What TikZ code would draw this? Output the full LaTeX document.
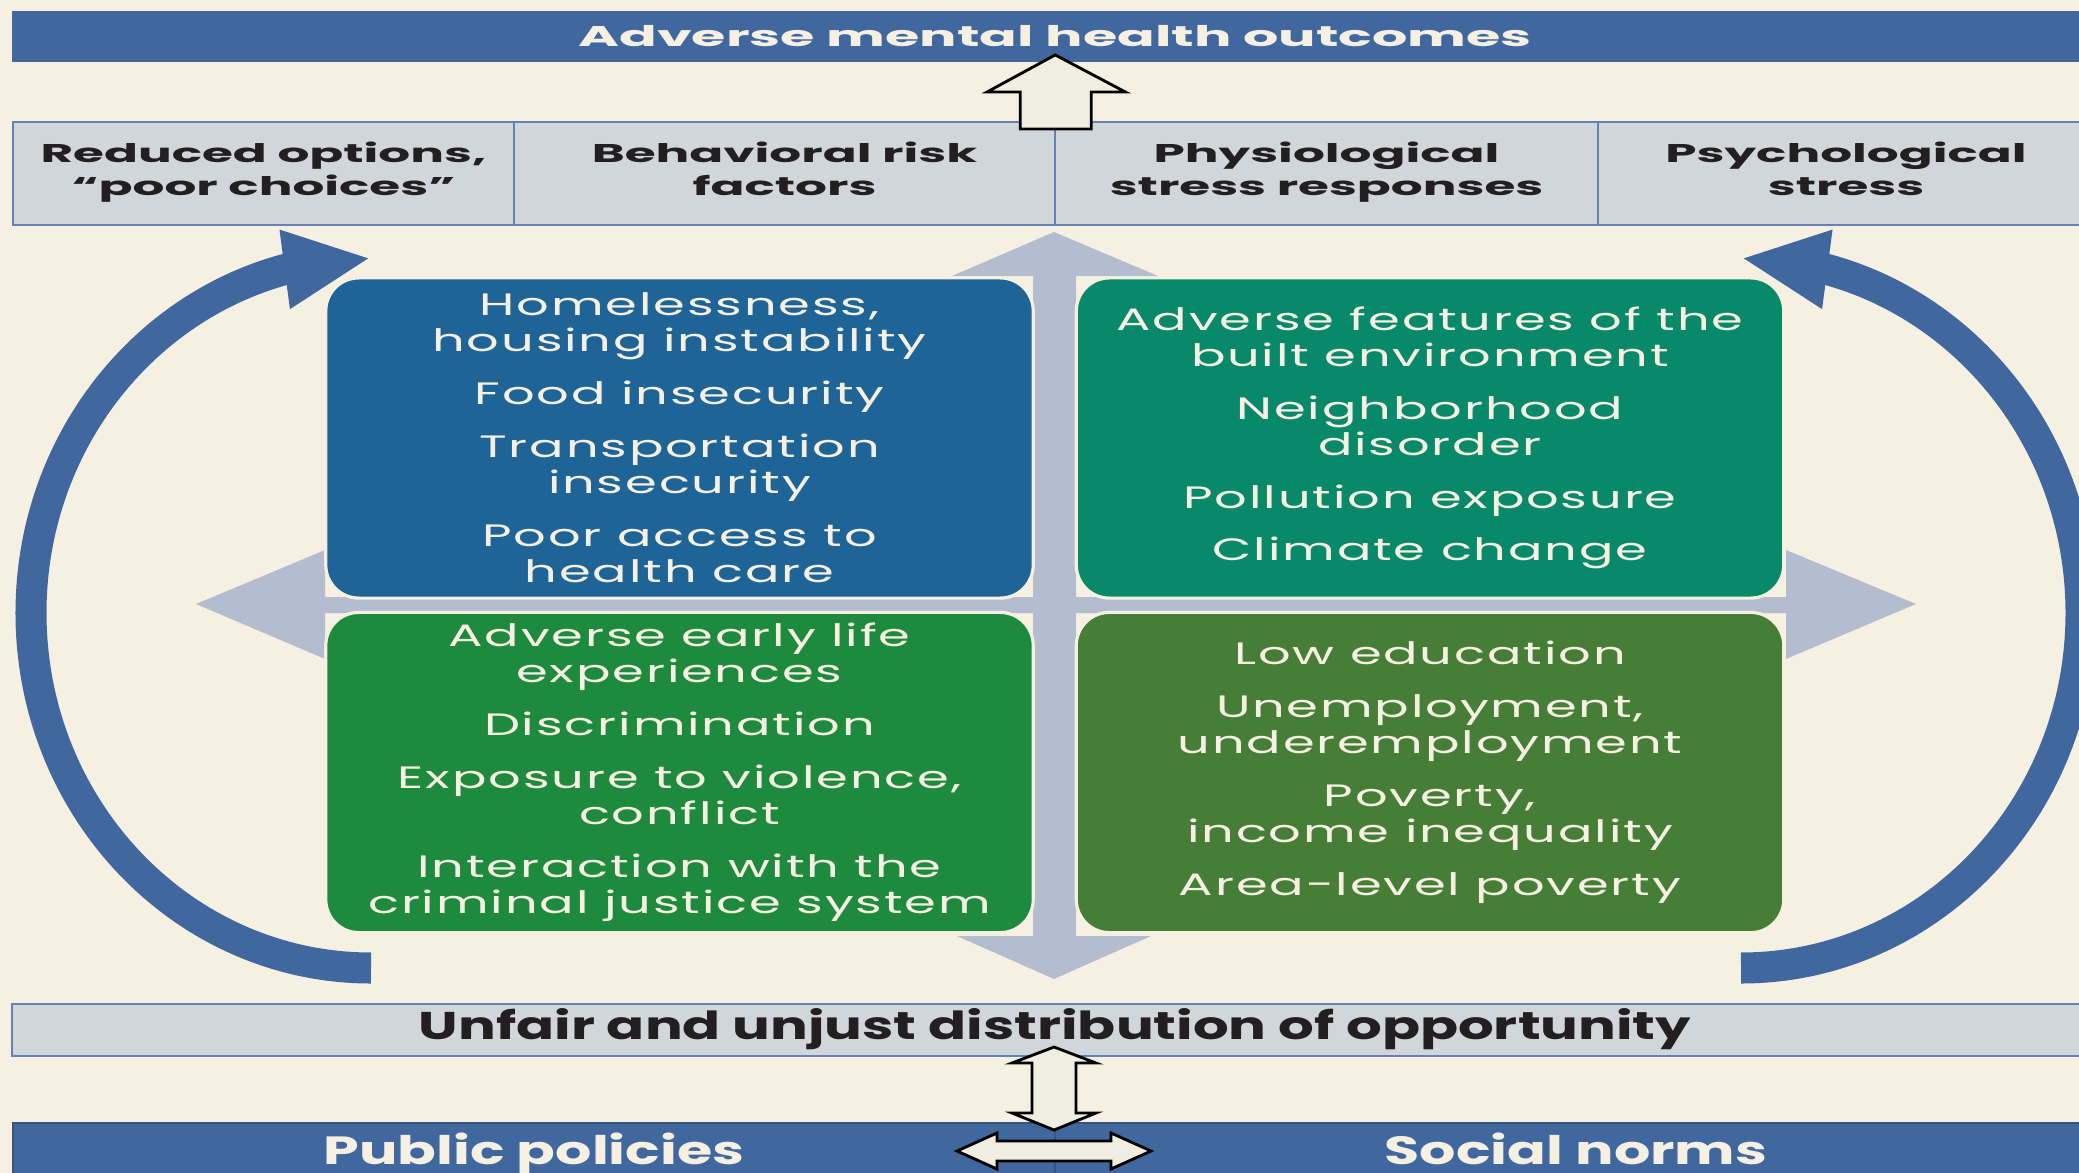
\documentclass[tikz,border=0pt]{standalone}
\usepackage{fontspec}
\setmainfont{Poppins}
\newfontfamily\headfont[FakeStretch=1.95]{Poppins}
\newfontfamily\cellfont[FakeStretch=1.65,LetterSpace=6]{Poppins}
\newfontfamily\basefont[FakeStretch=1.45]{Poppins}
\usetikzlibrary{arrows.meta,bending}

\definecolor{paper}{HTML}{F5F0E1}
\definecolor{barblue}{HTML}{41689E}
\definecolor{rowgrey}{HTML}{D0D6DA}
\definecolor{rowline}{HTML}{6383B5}
\definecolor{crossgrey}{HTML}{B4BDD0}
\definecolor{housingblue}{HTML}{1E6496}
\definecolor{builtteal}{HTML}{088A6A}
\definecolor{earlygreen}{HTML}{1E8A3E}
\definecolor{incomeolive}{HTML}{467D37}
\definecolor{openfill}{HTML}{EEEEE2}
\definecolor{ink}{HTML}{231F20}

\tikzset{
  topbar/.style={fill=barblue, inner sep=0, minimum width=20.84cm, minimum height=0.51cm,
    text=paper, font=\headfont\bfseries\fontsize{8.1}{9}\selectfont},
  rowbox/.style={fill=rowgrey, draw=rowline, line width=0.6pt, inner sep=0, minimum height=1.03cm,
    align=center, text=ink, font=\headfont\bfseries\fontsize{7.3}{9.4}\selectfont,
    execute at begin node=\strut, execute at end node=\strut},
  cellbox/.style={rounded corners=0.33cm, draw=paper, line width=0.9pt, inner sep=0,
    minimum width=7.07cm, minimum height=3.2cm, align=center, text=paper,
    font=\cellfont\fontsize{8.8}{10.24}\selectfont},
  basebar/.style={fill=barblue, draw=barblue!80!black, line width=0.5pt, inner sep=0,
    minimum width=10.42cm, minimum height=0.56cm, text height=10.2pt, text depth=2.5pt, text=paper,
    font=\basefont\bfseries\fontsize{11.2}{12}\selectfont},
  looparrow/.style={barblue, line width=0.31cm, -{Triangle[length=0.87cm, width=0.73cm]}},
  openarrow/.style={draw=black, fill=openfill, line width=0.8pt, line join=miter}
}

\begin{document}
\begin{tikzpicture}[x=0.01cm, y=-0.01cm]
  \useasboundingbox (0,0) rectangle (2079,1173);
  \clip (0,0) rectangle (2079,1173);
  \fill[paper] (0,0) rectangle (2079,1173);

  % the light cross behind the four fields
  \fill[crossgrey] (1054,232) -- (1158,276) -- (1076,276) -- (1076,597) -- (1786,597) -- (1786,550)
    -- (1916,604) -- (1786,659) -- (1786,613) -- (1076,613) -- (1076,936) -- (1151,936)
    -- (1054,979) -- (957,936) -- (1033,936) -- (1033,613) -- (325,613) -- (325,659)
    -- (196,604) -- (325,550) -- (325,597) -- (1033,597) -- (1033,276) -- (952,276) -- cycle;

  \node[cellbox, fill=housingblue] (housing) at (679.5,438) {Homelessness,\\housing instability\\[4.8pt]
    Food insecurity\\[4.8pt] Transportation\\insecurity\\[4.8pt] Poor access to\\health care};
  \node[cellbox, fill=builtteal] (builtenv) at (1430,438) {Adverse features of the\\built environment\\[4.8pt]
    Neighborhood\\disorder\\[4.8pt] Pollution exposure\\[4.8pt] Climate change};
  \node[cellbox, fill=earlygreen] (earlylife) at (679.5,772.5) {Adverse early life\\experiences\\[4.8pt]
    Discrimination\\[4.8pt] Exposure to violence,\\conflict\\[4.8pt] Interaction with the\\criminal justice system};
  \node[cellbox, fill=incomeolive] (income) at (1430,772.5) {Low education\\[4.8pt]
    Unemployment,\\underemployment\\[4.8pt] Poverty,\\income inequality\\[4.8pt] Area-level poverty};

  % feedback loops
  \draw[looparrow] (371,968) arc[start angle=90, end angle=270, x radius=340, y radius=355];
  \draw[looparrow] (1741,968) arc[start angle=90, end angle=-90, x radius=340, y radius=355];

  \node[topbar] (outcome) at (1055,36.5) {Adverse mental health outcomes};

  \node[rowbox, minimum width=5.01cm] (options) at (263.5,173.5) {Reduced options,\\“poor choices”};
  \node[rowbox, minimum width=5.41cm] (behavior) at (784.5,173.5) {Behavioral risk\\factors};
  \node[rowbox, minimum width=5.43cm] (physio) at (1326.5,173.5) {Physiological\\stress responses};
  \node[rowbox, minimum width=4.96cm] (psych) at (1846,173.5) {Psychological\\stress};

  \node[rowbox, minimum width=20.84cm, minimum height=0.52cm,
    font=\basefont\bfseries\fontsize{11}{12}\selectfont] (opportunity) at (1055,1030)
    {Unfair and unjust distribution of opportunity};

  \node[basebar] (policies) at (534,1151) {Public policies};
  \node[basebar] (norms) at (1576,1151) {Social norms};

  \draw[openarrow] (behavior.north east) ++(-36,8) -- ++(0,-37) -- ++(-33,0) -- ++(68,-37)
    -- ++(70,37) -- ++(-34,0) -- ++(0,37) -- cycle;
  \draw[openarrow] (1054,1047) -- (1096,1063) -- (1076,1063) -- (1076,1113) -- (1096,1113)
    -- (1054,1130) -- (1012,1113) -- (1032,1113) -- (1032,1063) -- (1012,1063) -- cycle;
  \draw[openarrow] (957,1151) -- (997,1133) -- (997,1141) -- (1111,1141) -- (1111,1133)
    -- (1151,1151) -- (1111,1169) -- (1111,1161) -- (997,1161) -- (997,1169) -- cycle;
\end{tikzpicture}
\end{document}
